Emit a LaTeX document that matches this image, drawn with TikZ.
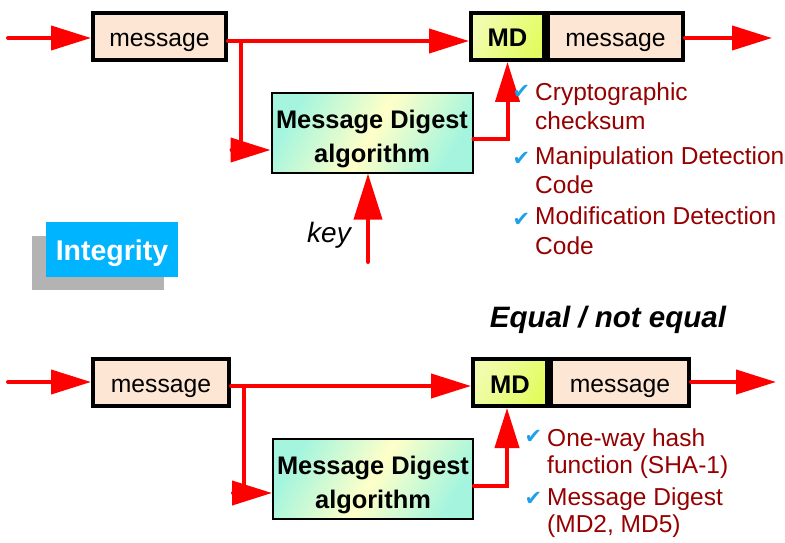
\documentclass[tikz,border=0pt]{standalone}
\usepackage{fontspec}
\setmainfont{Liberation Sans}
\newfontfamily\symfont{DejaVu Sans}
\usetikzlibrary{arrows.meta}

\definecolor{flow}{RGB}{255,0,0}
\definecolor{peach}{RGB}{253,230,211}
\definecolor{mint}{RGB}{165,245,222}
\definecolor{pale}{RGB}{255,255,200}
\definecolor{lime}{RGB}{226,252,95}
\definecolor{limepale}{RGB}{242,252,175}
\definecolor{note}{RGB}{150,0,0}
\definecolor{tick}{RGB}{30,160,235}
\definecolor{badge}{RGB}{0,180,255}
\definecolor{shadowgray}{RGB}{179,179,179}

\newcommand{\algtext}{\begin{tabular}{@{}c@{}}\rule{0pt}{35pt}Message Digest\\algorithm\end{tabular}}

\begin{document}
\begin{tikzpicture}[x=1pt,y=-1pt,
  flowline/.style={draw=flow,line width=4pt,line cap=round},
  flowarrow/.style={flowline,-{Triangle[length=40pt,width=24pt]}},
  keyarrow/.style={flowline,-{Triangle[length=46pt,width=28pt]}},
  msgbox/.style={draw=black,line width=4pt,fill=peach,minimum height=47pt,
    inner sep=0pt,text height=20.5pt,text depth=0pt,
    font=\fontsize{24.7}{28}\selectfont},
  mdbox/.style={draw=black,line width=4pt,left color=limepale,right color=lime,
    shading angle=60,minimum height=47pt,inner sep=0pt,
    text height=21pt,text depth=0pt,
    font=\bfseries\fontsize{25.5}{28}\selectfont},
  algbox/.style={draw=black,line width=2pt,left color=mint,right color=mint,
    middle color=pale,shading angle=60,minimum width=201pt,minimum height=76pt,
    inner sep=0pt,font=\bfseries\fontsize{25.4}{34}\selectfont},
  notetext/.style={anchor=base west,inner sep=0pt,text=note,
    font=\fontsize{24.5}{29}\selectfont},
  tickmark/.style={inner sep=0pt,text=tick,font=\symfont\fontsize{21}{21}\selectfont},
]
\useasboundingbox (0,0) rectangle (785,543);

% ---------- sender side ----------
\node[msgbox,minimum width=133pt] (msgA) at (159.5,36.5) {message};
\node[mdbox,minimum width=73pt] (mdA) at (507.5,36.5) {MD};
\node[msgbox,minimum width=135pt] (outA) at (615.5,36.5) {message};
\node[algbox] (algA) at (372,133) {\algtext};

\coordinate (inA) at (8,38);
\coordinate (splitA) at (241,41);
\coordinate (endA) at (772,38);
\coordinate (keyA) at (368,262);

\draw[flowarrow] (inA) -- (inA -| msgA.west);
\draw[flowarrow] (splitA -| msgA.east) -- (splitA -| mdA.west);
\draw[flowarrow] (splitA) |- ([yshift=-17pt]algA.west);
\draw[flowarrow] ([yshift=-6pt]algA.east) -| (mdA.south);
\draw[flowarrow] (endA -| outA.east) -- (endA);
\draw[keyarrow] (keyA) -- (keyA |- algA.south);

\node[font=\itshape\fontsize{28}{32}\selectfont] (keylbl) at (329,235) {key};

\node[tickmark] (tA1) at (521.5,92) {✔};
\node[notetext] (nA1a) at (535,101) {Cryptographic};
\node[notetext] (nA1b) at (535,129) {checksum};
\node[tickmark] (tA2) at (521.5,159) {✔};
\node[notetext] (nA2a) at (535,164) {Manipulation Detection};
\node[notetext] (nA2b) at (535,193) {Code};
\node[tickmark] (tA3) at (521.5,220) {✔};
\node[notetext] (nA3a) at (535,224) {Modification Detection};
\node[notetext] (nA3b) at (535,254) {Code};

% ---------- badge ----------
\fill[shadowgray] (32,236) rectangle (164,290);
\node[fill=badge,minimum width=132pt,minimum height=55pt,inner sep=0pt,
  text height=21pt,text depth=0pt,
  text=white,font=\bfseries\fontsize{28.5}{32}\selectfont] (badge) at (112,249.5) {Integrity};

% ---------- receiver side ----------
\node[font=\bfseries\itshape\fontsize{29.5}{33}\selectfont] (cmp) at (608,320) {Equal / not equal};

\node[msgbox,minimum width=136pt] (msgB) at (161,382.5) {message};
\node[mdbox,minimum width=74pt] (mdB) at (510,382.5) {MD};
\node[msgbox,minimum width=138pt] (outB) at (620,382.5) {message};
\node[algbox,minimum width=200pt] (algB) at (373,479) {\algtext};

\coordinate (inB) at (8,382);
\coordinate (splitB) at (244,386);
\coordinate (endB) at (776,382);

\draw[flowarrow] (inB) -- (inB -| msgB.west);
\draw[flowarrow] (splitB -| msgB.east) -- (splitB -| mdB.west);
\draw[flowarrow] (splitB) |- ([yshift=-14pt]algB.west);
\draw[flowarrow] ([yshift=-7pt]algB.east) -| ([xshift=-3pt]mdB.south);
\draw[flowarrow] (endB -| outB.east) -- (endB);

\node[tickmark] (tB1) at (533.5,437) {✔};
\node[notetext] (nB1a) at (547,446) {One-way hash};
\node[notetext] (nB1b) at (547,473) {function (SHA-1)};
\node[tickmark] (tB2) at (533.5,499) {✔};
\node[notetext] (nB2a) at (547,505) {Message Digest};
\node[notetext] (nB2b) at (547,532) {(MD2, MD5)};
\end{tikzpicture}
\end{document}
